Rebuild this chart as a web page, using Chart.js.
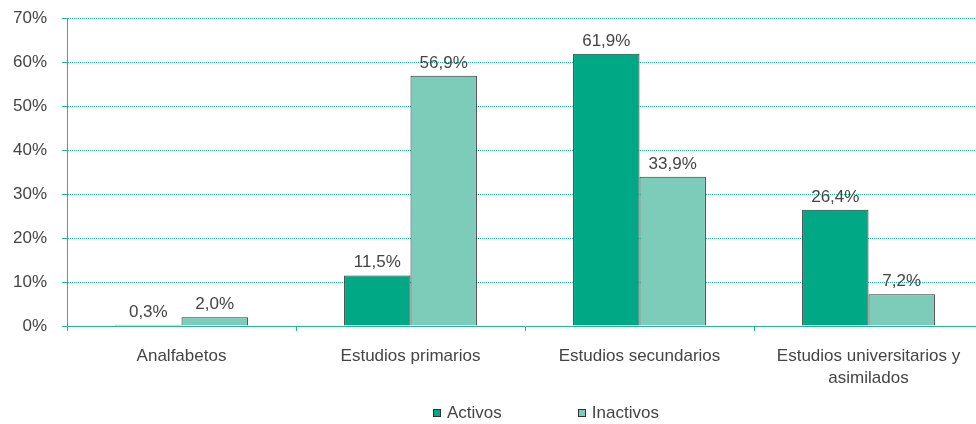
<!DOCTYPE html>
<html>
<head>
<meta charset="utf-8">
<script src="https://cdn.jsdelivr.net/npm/chart.js@4/dist/chart.umd.min.js"></script>
<style>
  body { margin: 0; overflow: hidden; background: #fff; }
  #wrap { position: relative; width: 984px; height: 424px; }
  #leyenda { position: absolute; left: 433px; top: 403px; font: 17px "Liberation Sans", Arial, sans-serif; color: #444; line-height: 20px; white-space: nowrap; }
  #leyenda span.item { display: inline-block; margin-right: 76px; }
  #leyenda span.caja { display: inline-block; width: 6px; height: 6px; border: 1px solid #333; margin-right: 6px; vertical-align: 1px; }
</style>
</head>
<body>
<div id="wrap">
  <canvas id="grafico"></canvas>
  <div id="leyenda"></div>
</div>
<script>
// datos
const categorias = ["Analfabetos", "Estudios primarios", "Estudios secundarios", ["Estudios universitarios y", "asimilados"]];
const activos = [0.3, 11.5, 61.9, 26.4];
const inactivos = [2.0, 56.9, 33.9, 7.2];
const nombres = ["Activos", "Inactivos"];
const colores = ["#00a886", "#7dccba"];

const gris = "#444";
const verdeRejilla = "#25b895";
const familia = "'Liberation Sans', Arial, sans-serif";
const fuenteX = { family: familia, size: 17, lineHeight: 1.3 };
// lineHeight pequeño para que la etiqueta de arriba no empuje el area
const fuenteY = { family: familia, size: 17, lineHeight: 0.2 };

function pct(v) {
  return v.toFixed(1).replace(".", ",") + "%";
}

// etiquetas encima de cada barra
const etiquetas = {
  id: "etiquetas",
  afterDatasetsDraw(chart) {
    const ctx = chart.ctx;
    ctx.save();
    ctx.font = "17px " + familia;
    ctx.fillStyle = gris;
    ctx.textAlign = "center";
    ctx.textBaseline = "alphabetic";
    chart.data.datasets.forEach(function(ds, i) {
      chart.getDatasetMeta(i).data.forEach(function(bar, j) {
        ctx.fillText(pct(ds.data[j]), bar.x, bar.y - 8);
      });
    });
    ctx.restore();
  }
};

let dados = {
  labels: categorias,
  datasets: [{
    label: nombres[0],
    data: activos,
    backgroundColor: colores[0],
    borderColor: "#333",
    borderWidth: 1,
    categoryPercentage: 0.58,
    barPercentage: 1
  }, {
    label: nombres[1],
    data: inactivos,
    backgroundColor: colores[1],
    borderColor: "#333",
    borderWidth: 1,
    categoryPercentage: 0.58,
    barPercentage: 1
  }]
};

let options = {
  responsive: true,
  maintainAspectRatio: false,
  animation: false,
  layout: { padding: { top: 18, right: 1, bottom: 0, left: 0 } },
  plugins: {
    legend: { display: false },
    tooltip: { enabled: false }
  },
  scales: {
    x: {
      afterFit: function(s) { s.height = 98; },
      grid: { drawOnChartArea: false, tickLength: 5, color: verdeRejilla },
      border: { color: verdeRejilla, dash: [1, 1] },
      ticks: { color: gris, font: fuenteX, padding: 14, maxRotation: 0, autoSkip: false }
    },
    y: {
      min: 0,
      max: 70,
      afterFit: function(s) { s.width = 67; },
      grid: { color: verdeRejilla, tickLength: 5 },
      border: { color: verdeRejilla, dash: [1, 1] },
      ticks: {
        stepSize: 10,
        color: gris,
        font: fuenteY,
        padding: 15,
        callback: function(v) { return v + "%"; }
      }
    }
  }
};

let ctx = document.getElementById("grafico").getContext("2d");
var graficoChart = new Chart(ctx, {
  type: "bar",
  data: dados,
  options: options,
  plugins: [etiquetas]
});

// leyenda en html
let leyenda = document.getElementById("leyenda");
graficoChart.data.datasets.forEach(function(ds) {
  let item = document.createElement("span");
  item.className = "item";
  let caja = document.createElement("span");
  caja.className = "caja";
  caja.style.background = ds.backgroundColor;
  item.appendChild(caja);
  item.appendChild(document.createTextNode(ds.label));
  leyenda.appendChild(item);
});
</script>
</body>
</html>
